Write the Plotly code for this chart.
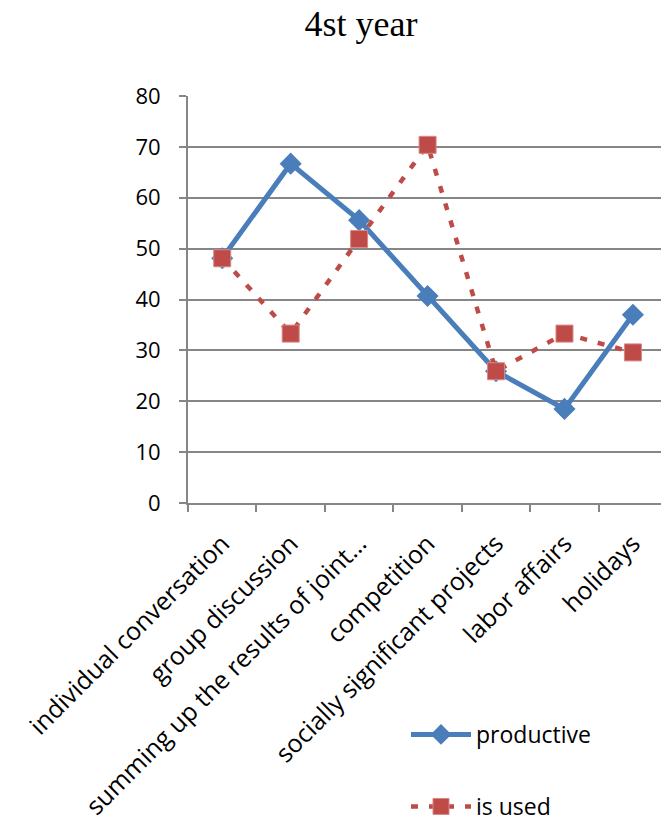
import plotly.graph_objects as go

categories = [
    "individual conversation",
    "group discussion",
    "summing up the results of joint…",
    "competition",
    "socially significant projects",
    "labor affairs",
    "holidays",
]
productive = [48.1, 66.7, 55.6, 40.7, 25.9, 18.5, 37.0]
is_used = [48.1, 33.3, 51.9, 70.4, 25.9, 33.3, 29.6]

blue = "#4A7EBB"
red = "#BE4B48"
axis_gray = "#868686"
ytick_font = dict(family="Open Sans, sans-serif", size=22, color="#000000")
xtick_font = dict(family="Open Sans, sans-serif", size=25, color="#000000")
legend_font = dict(family="Open Sans, sans-serif", size=23, color="#000000")

fig = go.Figure()
fig.add_trace(go.Scatter(
    x=categories, y=productive, name="productive", mode="lines+markers",
    line=dict(color=blue, width=5),
    marker=dict(symbol="diamond", size=17, color=blue),
    legend="legend",
))
fig.add_trace(go.Scatter(
    x=categories, y=is_used, name="is used", mode="lines+markers",
    line=dict(color=red, width=4.5, dash="7px,11px"),
    marker=dict(symbol="square", size=17, color=red,
                line=dict(color="#D98785", width=1)),
    legend="legend2",
))

legend_common = dict(xref="container", yref="container", xanchor="left", yanchor="top",
                     font=legend_font, bgcolor="rgba(0,0,0,0)", itemwidth=60)

fig.update_layout(
    width=661, height=823,
    margin=dict(l=188, r=0, t=96, b=320, autoexpand=False),
    paper_bgcolor="white", plot_bgcolor="white",
    title=dict(text="4st year", x=361 / 661, xref="container", xanchor="center",
               y=1 - 11 / 823, yref="container", yanchor="top",
               font=dict(family="Liberation Serif, Times New Roman, serif", size=36, color="#000000")),
    legend=dict(x=406 / 661, y=1 - 713 / 823, **legend_common),
    legend2=dict(x=406 / 661, y=1 - 785 / 823, **legend_common),
    showlegend=True,
)
fig.update_xaxes(
    type="category", range=[-0.5, 6.41],
    showline=True, linecolor=axis_gray, linewidth=2,
    ticks="outside", tickson="boundaries", ticklen=7, tickcolor=axis_gray, tickwidth=2,
    tickangle=-45, tickfont=xtick_font, ticklabelstandoff=14,
    showgrid=False, automargin=False,
)
fig.update_yaxes(
    range=[0, 80], dtick=10,
    showline=True, linecolor=axis_gray, linewidth=2,
    ticks="outside", ticklen=7, tickcolor=axis_gray, tickwidth=2,
    gridcolor=axis_gray, gridwidth=2, zeroline=False,
    tickfont=ytick_font, ticklabelstandoff=14, automargin=False,
)

fig.write_html("out.html")
